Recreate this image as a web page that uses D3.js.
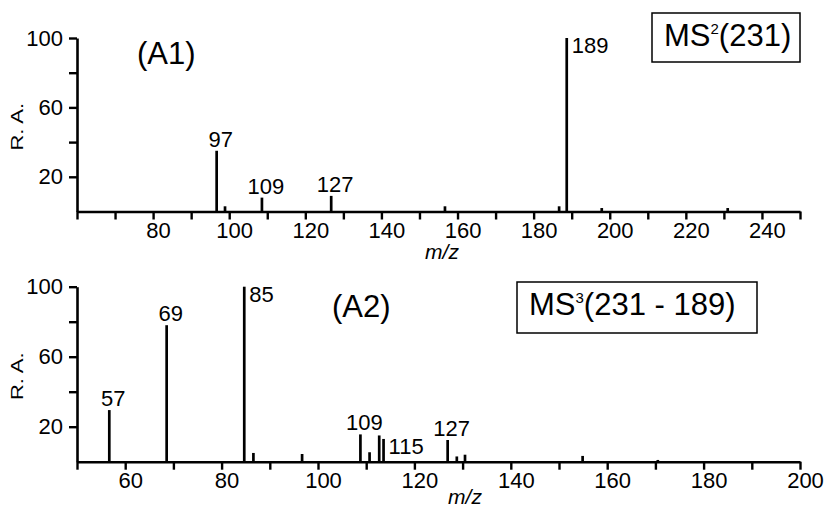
<!DOCTYPE html>
<html>
<head>
<meta charset="utf-8">
<script src="https://cdn.jsdelivr.net/npm/d3@7"></script>
<style>
  body { margin: 0; background: #fff; }
  svg { display: block; font-family: "Liberation Sans", Arial, sans-serif; }
</style>
</head>
<body>
<svg width="829" height="508"></svg>
<script>
// Panel A1: MS2(231)
var a1Mz = [96.7, 98.9, 108.6, 126.8, 156.7, 186.7, 188.7, 197.9, 231.0];
var a1Int = [35, 3, 8, 9, 3, 3, 100, 2, 2];
var a1Text = ["97", "", "109", "127", "", "", "189", "", ""];
var a1XTicks = [80, 100, 120, 140, 160, 180, 200, 220, 240];

// Panel A2: MS3(231 - 189)
var a2Mz = [56.7, 68.6, 84.7, 86.6, 96.7, 108.8, 110.7, 112.7, 113.6, 126.9, 128.8, 130.5, 154.9, 170.5];
var a2Int = [29.5, 78, 100, 5, 4.4, 15.6, 5.4, 15, 13, 12.4, 3, 4, 3.3, 1];
var a2Text = ["57", "69", "85", "", "", "109", "", "", "115", "127", "", "", "", ""];
var a2XTicks = [60, 80, 100, 120, 140, 160, 180, 200];

var yTicks = [20, 60, 100];
var rightLabels = ["189", "85", "115"];

var svg = d3.select("svg");
svg.append("rect").attr("width", 829).attr("height", 508).attr("fill", "#fff");

function panel(opt) {
  var x = d3.scaleLinear().domain(opt.xDomain).range([77, 800]);
  var y = d3.scaleLinear().domain([0, 100]).range(opt.yRange);
  var g = svg.append("g");

  var xAxis = d3.axisBottom(x)
    .tickValues(d3.range(opt.xDomain[0], opt.xDomain[1] + 1, 10))
    .tickSize(8).tickSizeOuter(0).tickPadding(3)
    .tickFormat(function (d) { return opt.xTicks.indexOf(d) >= 0 ? d : ""; });
  var gx = g.append("g").attr("transform", "translate(0," + y(0) + ")").call(xAxis);

  var yAxis = d3.axisLeft(y)
    .tickValues([20, 40, 60, 80, 100])
    .tickSize(8).tickSizeOuter(0).tickPadding(6)
    .tickFormat(function (d) { return yTicks.indexOf(d) >= 0 ? d : ""; });
  var gy = g.append("g").attr("transform", "translate(77,0)").call(yAxis);

  [gx, gy].forEach(function (a) {
    a.select(".domain").attr("stroke", "#000").attr("stroke-width", 2.6);
    a.selectAll(".tick line").attr("stroke", "#000").attr("stroke-width", 2.4);
    a.selectAll(".tick text").attr("fill", "#000").style("font-size", "22px")
      .style("font-family", "'Liberation Sans', Arial, sans-serif");
  });
  gx.selectAll(".tick text").attr("dx", 5);

  // peaks
  g.append("g").selectAll("line").data(opt.mz).enter().append("line")
    .attr("x1", function (d) { return x(d); })
    .attr("x2", function (d) { return x(d); })
    .attr("y1", y(0))
    .attr("y2", function (d, i) { return y(opt.int[i]); })
    .attr("stroke", "#000").attr("stroke-width", 2.7);

  // peak labels
  g.append("g").selectAll("text").data(opt.mz).enter()
    .filter(function (d, i) { return opt.text[i] !== ""; })
    .append("text")
    .attr("x", function (d) {
      var i = opt.mz.indexOf(d), t = opt.text[i];
      return rightLabels.indexOf(t) >= 0 ? x(d) + 5 : x(d) + 4;
    })
    .attr("y", function (d) {
      var i = opt.mz.indexOf(d), t = opt.text[i];
      return rightLabels.indexOf(t) >= 0 ? y(opt.int[i]) + 15 : y(opt.int[i]) - 4;
    })
    .attr("text-anchor", function (d) {
      var t = opt.text[opt.mz.indexOf(d)];
      return rightLabels.indexOf(t) >= 0 ? "start" : "middle";
    })
    .style("font-size", "22px")
    .text(function (d) { return opt.text[opt.mz.indexOf(d)]; });

  // axis titles
  g.append("text")
    .attr("transform", "translate(23," + ((y(0) + y(100)) / 2 + 2) + ") rotate(-90) scale(1,0.72)")
    .attr("text-anchor", "middle")
    .style("font-size", "22px")
    .text("R. A.");

  g.append("text")
    .attr("x", opt.mzX).attr("y", y(0) + opt.mzDy)
    .attr("text-anchor", "middle")
    .style("font-size", "21px").style("font-style", "italic")
    .text("m/z");

  // panel tag
  g.append("text")
    .attr("x", opt.tagX).attr("y", opt.tagY)
    .style("font-size", "31px")
    .text(opt.tag);

  // title box
  var box = g.append("g");
  box.append("rect")
    .attr("x", opt.box[0]).attr("y", opt.box[1])
    .attr("width", opt.box[2]).attr("height", opt.box[3])
    .attr("fill", "#fff").attr("stroke", "#000").attr("stroke-width", 1.5);
  var t = box.append("text")
    .attr("x", opt.box[0] + 12).attr("y", opt.box[1] + 33)
    .style("font-size", "31px");
  t.append("tspan").text("MS");
  t.append("tspan").attr("dy", -12).style("font-size", "15px").text(opt.sup);
  t.append("tspan").attr("dy", 12).text(opt.title);
}

panel({
  xDomain: [60, 250], yRange: [211.5, 38], xTicks: a1XTicks,
  mz: a1Mz, int: a1Int, text: a1Text,
  mzX: 442, mzDy: 47, tag: "(A1)", tagX: 137, tagY: 64,
  box: [652, 13, 148, 49], sup: "2", title: "(231)"
});

panel({
  xDomain: [50, 200], yRange: [461.7, 286.7], xTicks: a2XTicks,
  mz: a2Mz, int: a2Int, text: a2Text,
  mzX: 465, mzDy: 42, tag: "(A2)", tagX: 332, tagY: 317,
  box: [517, 282, 240, 51], sup: "3", title: "(231 - 189)"
});
</script>
</body>
</html>
